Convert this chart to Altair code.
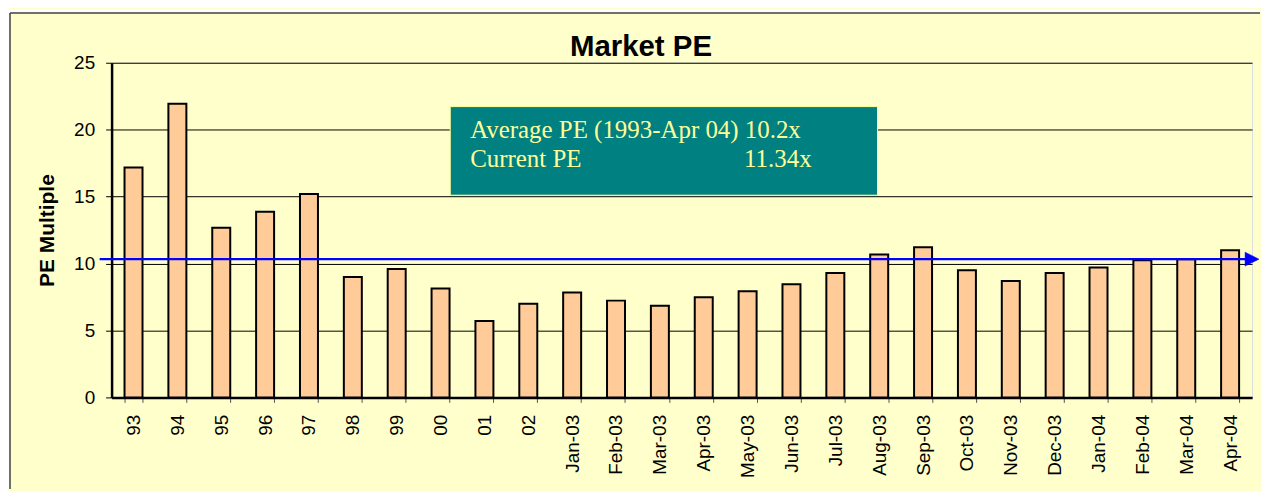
import altair as alt
import pandas as pd

# ---- data ----
categories = ["93", "94", "95", "96", "97", "98", "99", "00", "01", "02",
              "Jan-03", "Feb-03", "Mar-03", "Apr-03", "May-03", "Jun-03",
              "Jul-03", "Aug-03", "Sep-03", "Oct-03", "Nov-03", "Dec-03",
              "Jan-04", "Feb-04", "Mar-04", "Apr-04"]
pe_values = [17.17, 21.93, 12.68, 13.87, 15.19, 9.0, 9.59, 8.13, 5.7, 6.99,
             7.83, 7.23, 6.85, 7.48, 7.93, 8.45, 9.3, 10.67, 11.22, 9.5,
             8.7, 9.3, 9.7, 10.25, 10.32, 11.0]
average_line = [10.33]
y_ticks = [0, 5, 10, 15, 20, 25]
box_lines = ["Average PE (1993-Apr 04) 10.2x", "Current PE"]
current_value_text = ["11.34x"]
title_text = ["Market PE"]

W, H = 1145, 336
FONT = "Liberation Sans"

df = pd.DataFrame({"period": categories, "pe": pe_values})

x_enc = alt.X("period:N", sort=categories,
              scale=alt.Scale(paddingInner=0.59, paddingOuter=0.295),
              axis=alt.Axis(title=None, labelAngle=-90, tickBand="extent",
                            tickSize=5, tickColor="#555555", tickWidth=1,
                            labelFontSize=19, labelPadding=12, labelColor="black",
                            domainColor="black", domainWidth=2.5, grid=False,
                            labelFont=FONT))
y_enc = alt.Y("pe:Q", scale=alt.Scale(domain=[0, 25], nice=False),
              axis=alt.Axis(title="PE Multiple", values=y_ticks, grid=True,
                            gridColor="black", gridWidth=1, gridOpacity=1,
                            tickSize=6, tickColor="black", tickWidth=1,
                            labelFontSize=19, labelPadding=11, labelColor="black",
                            labelFont=FONT,
                            domainColor="black", domainWidth=2.5,
                            titleFontSize=21, titleFontWeight="bold",
                            titleFont=FONT, titleColor="black", titlePadding=16))

bars = alt.Chart(df).mark_bar(fill="#FFCC99", stroke="black", strokeWidth=2).encode(
    x=x_enc, y=y_enc)

avg_df = pd.DataFrame({"pe": average_line})
avg_rule = alt.Chart(avg_df).mark_rule(color="#0000FF", strokeWidth=2.5).encode(
    x=alt.value(-12), x2=alt.value(W - 4), y="pe:Q")
arrow = alt.Chart(avg_df).mark_point(
    shape="M-1,-1L1,0L-1,1Z", filled=True, fill="#0000FF", stroke="#0000FF",
    size=196, opacity=1, strokeWidth=0.5).encode(
    x=alt.value(W), y="pe:Q")

one = pd.DataFrame({"k": [0]})
box = alt.Chart(one).mark_rect(fill="#008080", stroke="#FFFF99", strokeWidth=1).encode(
    x=alt.value(340), x2=alt.value(769), y=alt.value(44), y2=alt.value(133))

text_style = dict(font="Liberation Serif", fontSize=25, color="#FFFF99",
                  align="left", baseline="alphabetic")
line1 = alt.Chart(pd.DataFrame({"txt": [box_lines[0]]})).mark_text(**text_style).encode(
    text="txt:N", x=alt.value(360), y=alt.value(75.7))
line2 = alt.Chart(pd.DataFrame({"txt": [box_lines[1]]})).mark_text(**text_style).encode(
    text="txt:N", x=alt.value(360), y=alt.value(104.7))
line2b = alt.Chart(pd.DataFrame({"txt": current_value_text})).mark_text(**text_style).encode(
    text="txt:N", x=alt.value(635), y=alt.value(104.7))

title = alt.Chart(pd.DataFrame({"txt": title_text})).mark_text(
    font=FONT, fontSize=29.5, fontWeight="bold", color="black", align="center",
    baseline="alphabetic").encode(text="txt:N", x=alt.value(531.5), y=alt.value(-6.3))

# outer frame: white page strip + dark border lines
white_left = alt.Chart(one).mark_rect(fill="white").encode(
    x=alt.value(-104), x2=alt.value(-102), y=alt.value(-54), y2=alt.value(428))
white_top = alt.Chart(one).mark_rect(fill="white").encode(
    x=alt.value(-104), x2=alt.value(1153), y=alt.value(-54), y2=alt.value(-50))
border_top = alt.Chart(one).mark_rule(color="#404040", strokeWidth=1.5).encode(
    x=alt.value(-102), x2=alt.value(1153), y=alt.value(-50))
border_left = alt.Chart(one).mark_rule(color="#404040", strokeWidth=1.5).encode(
    x=alt.value(-102), y=alt.value(-50), y2=alt.value(428))

chart = alt.layer(
    bars, box, line1, line2, line2b, avg_rule, arrow, title,
    white_left, white_top, border_top, border_left
).properties(
    width=W, height=H,
    padding={"left": 0, "top": 0, "right": 0, "bottom": 0},
    background="#FFFFCC"
).configure_view(
    stroke="black", strokeWidth=2.5
).configure(font=FONT)

chart.save("out.html", embed_options={"renderer": "svg", "actions": False})
